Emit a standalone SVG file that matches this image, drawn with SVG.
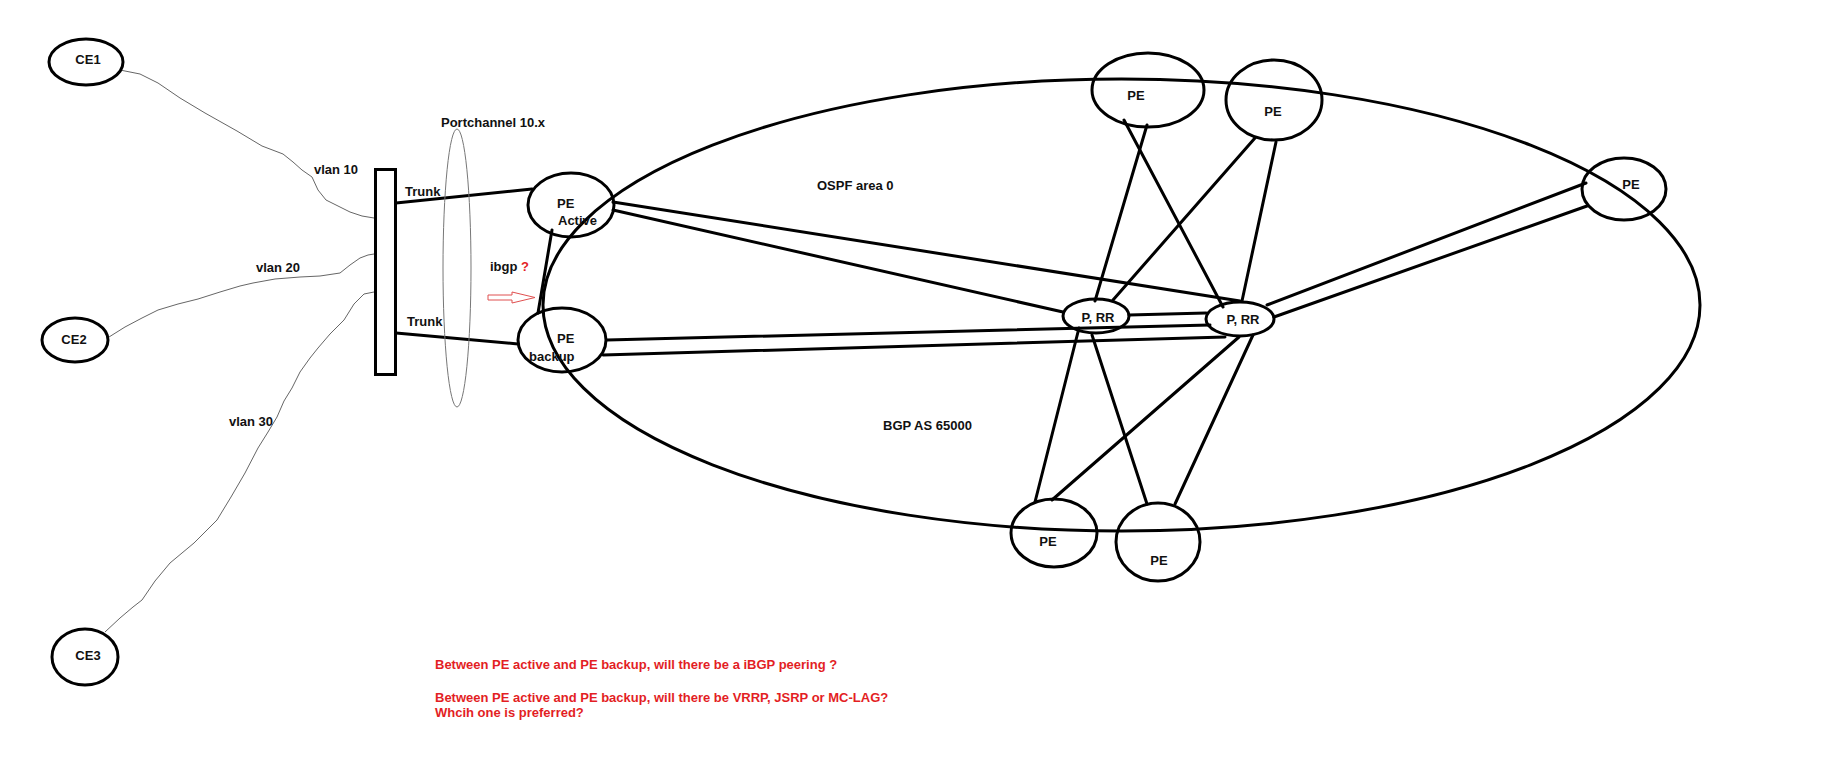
<svg xmlns="http://www.w3.org/2000/svg" width="1835" height="780" viewBox="0 0 1835 780">
<style>
  .node { fill: none; stroke: #000; stroke-width: 3; }
  .link { stroke: #000; stroke-width: 3; fill: none; stroke-linecap: round; }
  .thin { stroke: #666; stroke-width: 1; fill: none; stroke-linejoin: round; }
  .lbl { font-family: "Liberation Sans", Arial, sans-serif; font-size: 13px; font-weight: bold; fill: #111; }
  .mid { text-anchor: middle; }
  .red { fill: #e31e24; }
</style>
<rect x="0" y="0" width="1835" height="780" fill="#fff"/>

<g id="as65000">
  <ellipse cx="1121.5" cy="305" rx="578.5" ry="226" class="node"/>
  <text class="lbl" x="817" y="190">OSPF area 0</text>
  <text class="lbl" x="883" y="430">BGP AS 65000</text>
</g>

<g id="connectors">
  <polyline class="thin" points="120,70 140,74 158,83 180,98 205,113 237,131 262,146 283,154 293,162 302,170 312,177 318,190 326,200 336,205 350,212 362,216 374,218"/>
  <polyline class="thin" points="109,337 125,327 142,318 158,310 178,304 198,299 220,292 240,286 253,283 275,279 300,277 320,276 340,273 350,265 360,258 368,255 374,254"/>
  <polyline class="thin" points="105,632 120,618 133,607 142,600 155,581 170,563 182,553 194,543 206,531 217,520 231,497 245,473 258,448 268,432 277,417 284,401 292,388 300,372 310,358 318,348 330,334 344,320 354,304 364,294 374,292"/>
  <line class="link" x1="396" y1="203" x2="532" y2="189"/>
  <line class="link" x1="396" y1="333" x2="518" y2="344"/>
  <line class="link" x1="552" y1="230" x2="538" y2="313"/>
  <line class="link" x1="613" y1="202" x2="1240" y2="301"/>
  <line class="link" x1="613" y1="210" x2="1063" y2="312"/>
  <line class="link" x1="607" y1="340" x2="1210" y2="325"/>
  <line class="link" x1="603" y1="355" x2="1225" y2="337"/>
  <line class="link" x1="1129" y1="315" x2="1206" y2="313"/>
  <line class="link" x1="1267" y1="305" x2="1586" y2="183"/>
  <line class="link" x1="1274" y1="317" x2="1587" y2="206"/>
  <line class="link" x1="1147" y1="125" x2="1095" y2="301"/>
  <line class="link" x1="1124" y1="120" x2="1223" y2="307"/>
  <line class="link" x1="1255" y1="138" x2="1113" y2="300"/>
  <line class="link" x1="1276" y1="142" x2="1242" y2="301"/>
  <line class="link" x1="1079" y1="328" x2="1035" y2="502"/>
  <line class="link" x1="1092" y1="335" x2="1147" y2="504"/>
  <line class="link" x1="1239" y1="337" x2="1052" y2="500"/>
  <line class="link" x1="1253" y1="335" x2="1175" y2="504"/>
  <polygon points="488,295 512,295 512,292 535,297.5 512,303 512,300 488,300" fill="none" stroke="#e05050" stroke-width="1"/>
</g>

<g id="labels">
  <text class="lbl" x="314" y="174">vlan 10</text>
  <text class="lbl" x="256" y="272">vlan 20</text>
  <text class="lbl" x="229" y="426">vlan 30</text>
  <text class="lbl" x="405" y="196">Trunk</text>
  <text class="lbl" x="407" y="326">Trunk</text>
  <text class="lbl" x="490" y="271">ibgp <tspan class="red">?</tspan></text>
</g>

<g id="portchannel">
  <ellipse cx="457" cy="268" rx="14" ry="139" fill="none" stroke="#777" stroke-width="1"/>
  <text class="lbl" x="441" y="127">Portchannel 10.x</text>
</g>

<g id="ce1">
  <ellipse cx="86" cy="62" rx="37" ry="23" class="node"/>
  <text class="lbl mid" x="88" y="64">CE1</text>
</g>
<g id="ce2">
  <ellipse cx="75" cy="340" rx="33" ry="22" class="node"/>
  <text class="lbl mid" x="74" y="344">CE2</text>
</g>
<g id="ce3">
  <ellipse cx="85" cy="657" rx="33" ry="28" class="node"/>
  <text class="lbl mid" x="88" y="660">CE3</text>
</g>

<g id="switch">
  <rect x="375.5" y="169.5" width="20" height="205" class="node"/>
</g>

<g id="pe-active">
  <ellipse cx="571" cy="205" rx="43" ry="32" class="node"/>
  <text class="lbl" x="557" y="208">PE</text>
  <text class="lbl" x="558" y="225">Active</text>
</g>
<g id="pe-backup">
  <ellipse cx="562" cy="340" rx="44" ry="32" class="node"/>
  <text class="lbl" x="557" y="343">PE</text>
  <text class="lbl" x="529" y="361">backup</text>
</g>

<g id="pe-top1">
  <ellipse cx="1148" cy="90" rx="56" ry="37" class="node"/>
  <text class="lbl mid" x="1136" y="100">PE</text>
</g>
<g id="pe-top2">
  <ellipse cx="1274" cy="100" rx="48" ry="40" class="node"/>
  <text class="lbl mid" x="1273" y="116">PE</text>
</g>
<g id="pe-right">
  <ellipse cx="1624" cy="189" rx="42" ry="31" class="node"/>
  <text class="lbl mid" x="1631" y="189">PE</text>
</g>
<g id="p-rr1">
  <ellipse cx="1096" cy="316" rx="33" ry="17" class="node"/>
  <text class="lbl mid" x="1098" y="322">P, RR</text>
</g>
<g id="p-rr2">
  <ellipse cx="1240" cy="319" rx="34" ry="17" class="node"/>
  <text class="lbl mid" x="1243" y="324">P, RR</text>
</g>
<g id="pe-bottom1">
  <ellipse cx="1054" cy="533" rx="43" ry="34" class="node"/>
  <text class="lbl mid" x="1048" y="546">PE</text>
</g>
<g id="pe-bottom2">
  <ellipse cx="1158" cy="542" rx="42" ry="39" class="node"/>
  <text class="lbl mid" x="1159" y="565">PE</text>
</g>

<g id="questions">
  <text class="lbl red" x="435" y="669">Between PE active and PE backup, will there be a iBGP peering ?</text>
  <text class="lbl red" x="435" y="702">Between PE active and PE backup, will there be VRRP, JSRP or MC-LAG?</text>
  <text class="lbl red" x="435" y="717">Whcih one is preferred?</text>
</g>
</svg>
